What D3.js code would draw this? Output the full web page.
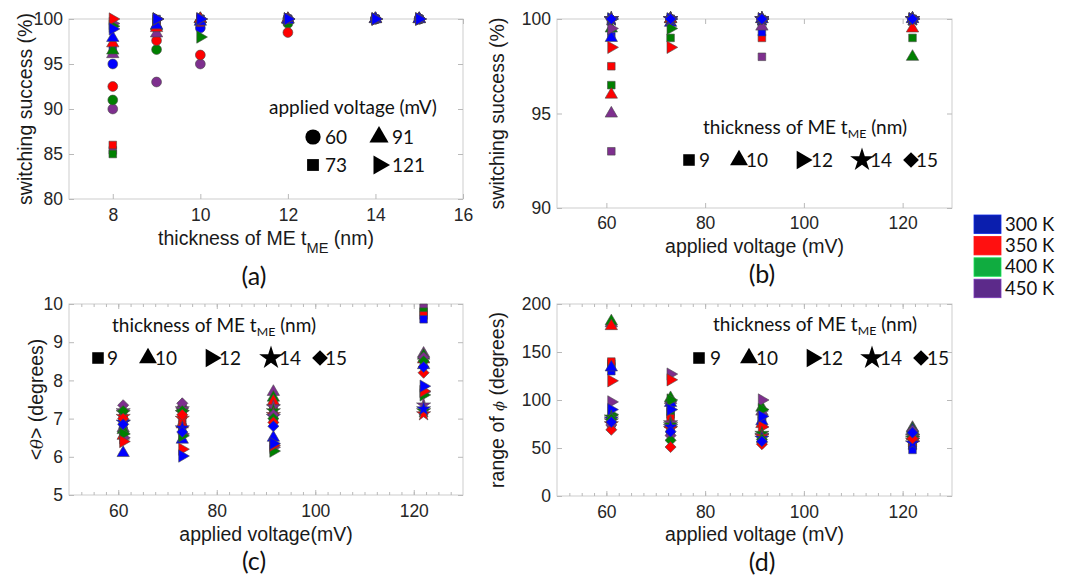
<!DOCTYPE html>
<html>
<head>
<meta charset="utf-8">
<script src="https://cdn.jsdelivr.net/npm/d3@7"></script>
<style>
  body { margin: 0; background: #fff; }
  .tick-label { font-family: "Liberation Sans", Arial, sans-serif; font-size: 17.5px; fill: #262626; }
  .axis-label { font-family: "Liberation Sans", Arial, sans-serif; font-size: 19.5px; fill: #1a1a1a; }
  .legend-text { font-family: Lato, "Open Sans", sans-serif; font-size: 19px; fill: #111; }
  .temp-text { font-family: Lato, "Open Sans", sans-serif; font-size: 18.5px; fill: #111; }
  .panel-label { font-family: Lato, "Open Sans", sans-serif; font-size: 25px; fill: #111; }
</style>
</head>
<body>
<svg id="fig" width="1079" height="580"></svg>
<script>
// temperatures (rows of every value table below: 300, 350, 400, 450 K)
var temps = ["300 K", "350 K", "400 K", "450 K"],
    markerColors = ["#0000ff", "#ff0000", "#008000", "#7e2f8e"],
    swatchColors = ["#0a1eae", "#ff1010", "#10ac40", "#5c2a8a"];

// (a) switching success vs thickness, one table per applied voltage
var thicknessA = [8, 9, 10, 12, 14, 15],
    voltagesA = [60, 73, 91, 121];
var successA60  = [[95, 99, 99, 100, 100, 100], [92.5, 97.6, 96, 98.5, 100, 100], [91, 96.6, 99.5, 99.5, 100, 100], [90, 93, 95, 100, 100, 100]];
var successA73  = [[96.8, 100, 100, 100, 100, 100], [86, 99.5, 99.6, 100, 100, 100], [85, 99.8, 100, 100, 100, 100], [85.4, 99.6, 100, 100, 100, 100]];
var successA91  = [[97.9, 99.3, 99.7, 99.9, 100, 100], [97.3, 99, 100, 100, 100, 100], [96.5, 99.2, 100, 100, 100, 100], [96.1, 98.4, 100, 100, 100, 100]];
var successA121 = [[98.9, 100, 100, 100, 100, 100], [100, 100, 100, 100, 100, 100], [99.2, 100, 98, 100, 100, 100], [99.5, 100, 100, 100, 100, 100]];

// (b), (c), (d) vs applied voltage, one table per ME thickness
var voltages = [61, 73, 91.5, 122],
    thicknessValues = [9, 10, 12, 14, 15];
var successB9  = [[99.1, 100, 99.3, 100], [97.5, 100, 99, 100], [96.5, 99, 100, 99], [93, 100, 98, 100]];
var successB10 = [[99, 99.8, 100, 100], [96, 100, 100, 99.5], [99.5, 100, 100, 98], [95, 100, 99.6, 100]];
var successB12 = [[100, 100, 100, 100], [98.5, 98.5, 100, 100], [100, 99.5, 100, 100], [99.5, 100, 100, 100]];
var successB14 = [[100, 100, 100, 100], [100, 100, 100, 100], [100, 100, 100, 100], [100, 100, 100, 100]];
var successB15 = [[100, 100, 100, 100], [100, 100, 100, 100], [100, 100, 100, 100], [100, 100, 100, 100]];

var thetaC9  = [[6.95, 6.7, 6.95, 9.6], [6.85, 7.0, 7.25, 9.7], [7.0, 7.1, 7.35, 9.8], [7.1, 7.2, 7.4, 9.9]];
var thetaC10 = [[6.1, 6.45, 6.5, 8.4], [6.55, 6.85, 7.45, 8.55], [6.7, 7.3, 7.55, 8.65], [6.75, 7.35, 7.7, 8.7]];
var thetaC12 = [[6.95, 6.02, 6.35, 7.85], [6.4, 6.2, 6.3, 7.72], [6.6, 6.55, 6.15, 7.62], [6.5, 6.6, 6.25, 7.7]];
var thetaC14 = [[6.9, 6.75, 7.05, 7.25], [7.05, 7.0, 7.1, 7.12], [7.15, 7.15, 7.2, 7.2], [7.2, 7.25, 7.3, 7.35]];
var thetaC15 = [[6.85, 6.65, 6.8, 8.35], [7.0, 7.1, 6.9, 8.2], [7.2, 7.2, 7.0, 8.5], [7.35, 7.4, 7.1, 8.6]];

var phiD9  = [[130, 93, 82, 48], [140, 81, 78, 52], [138, 85, 85, 55], [135, 88, 80, 53]];
var phiD10 = [[134, 97, 78, 68], [177, 75, 75, 62], [182, 102, 92, 70], [180, 100, 88, 71]];
var phiD12 = [[90, 90, 83, 60], [120, 121, 72, 57], [85, 100, 90, 62], [98, 127, 100, 64]];
var phiD14 = [[80, 72, 60, 55], [75, 70, 62, 58], [82, 74, 65, 60], [78, 76, 63, 62]];
var phiD15 = [[77, 67, 57, 66], [69, 51, 54, 60], [80, 58, 59, 65], [74, 63, 56, 68]];

var ticksA = {x: [8, 10, 12, 14, 16], y: [80, 85, 90, 95, 100]},
    ticksB = {x: [60, 80, 100, 120], y: [90, 95, 100]},
    ticksC = {x: [60, 80, 100, 120], y: [5, 6, 7, 8, 9, 10]},
    ticksD = {x: [60, 80, 100, 120], y: [0, 50, 100, 150, 200]};

var shapes = {
  circle:   {type: d3.symbolCircle,   size: 76, rot: 0},
  square:   {type: d3.symbolSquare,   size: 58, rot: 0},
  triangle: {type: d3.symbolTriangle, size: 66, rot: 0},
  right:    {type: d3.symbolTriangle, size: 66, rot: 90},
  star:     {type: d3.symbolStar,     size: 62, rot: 0},
  diamond:  {type: d3.symbolSquare,   size: 62, rot: 45}
};
var thicknessShapes = ["square", "triangle", "right", "star", "diamond"];

var svg = d3.select("#fig");

function mark(g, shape, px, py, fill, stroke, k) {
  var s = shapes[shape];
  g.append("path")
    .attr("d", d3.symbol().type(s.type).size(s.size * (k || 1))())
    .attr("transform", "translate(" + px + "," + py + ") rotate(" + s.rot + ")")
    .attr("fill", fill)
    .attr("stroke", stroke)
    .attr("stroke-width", stroke === "none" ? 0 : 0.6);
}

function panel(o) {
  var x = d3.scaleLinear().domain(o.xDomain).range([o.left, o.right]),
      y = d3.scaleLinear().domain(o.yDomain).range([o.bottom, o.top]),
      g = svg.append("g");

  function axis(gen, tx, ty, labels) {
    var a = g.append("g").attr("transform", "translate(" + tx + "," + ty + ")").call(gen);
    a.attr("font-size", null).attr("font-family", null);
    a.select(".domain").remove();
    a.selectAll("line").attr("stroke", "#b9b9b9");
    if (labels) a.selectAll("text").attr("class", "tick-label").attr("fill", null);
    else a.selectAll("text").remove();
  }

  g.append("rect")
    .attr("x", o.left).attr("y", o.top)
    .attr("width", o.right - o.left).attr("height", o.bottom - o.top)
    .attr("fill", "none").attr("stroke", "#cdcdcd");

  if (o.minor) {
    var minor = d3.range(o.xDomain[0] + o.minor, o.xDomain[1], o.minor);
    axis(d3.axisBottom(x).tickValues(minor).tickSize(-3), 0, o.bottom, false);
    axis(d3.axisTop(x).tickValues(minor).tickSize(-3), 0, o.top, false);
  }
  axis(d3.axisBottom(x).tickValues(o.ticks.x).tickSize(-5).tickPadding(o.xPad).tickFormat(d3.format("d")), 0, o.bottom, true);
  axis(d3.axisTop(x).tickValues(o.ticks.x).tickSize(-5), 0, o.top, false);
  axis(d3.axisLeft(y).tickValues(o.ticks.y).tickSize(-5).tickPadding(6).tickFormat(d3.format("d")), o.left, 0, true);
  axis(d3.axisRight(y).tickValues(o.ticks.y).tickSize(-5), o.right, 0, false);

  // purple first, blue last, so blue sits on top
  var pts = g.append("g");
  o.series.forEach(function(s) {
    [3, 2, 1, 0].forEach(function(t) {
      s.values[t].forEach(function(v, i) {
        mark(pts, s.shape, x(o.xs[i]), y(v), markerColors[t], "#4a4a4a");
      });
    });
  });

  var xl = g.append("text").attr("class", "axis-label")
    .attr("x", (o.left + o.right) / 2).attr("y", o.xLabelY).attr("text-anchor", "middle");
  o.xLabel(xl);
  var yl = g.append("text").attr("class", "axis-label")
    .attr("transform", "translate(" + o.yLabelX + "," + (o.top + o.bottom) / 2 + ") rotate(-90)")
    .attr("text-anchor", "middle");
  o.yLabel(yl);

  g.append("text").attr("class", "panel-label")
    .attr("x", o.tag[1]).attr("y", o.tag[2]).attr("text-anchor", "middle").text(o.tag[0]);
  return g;
}

// "thickness of ME t_ME (nm)" legend with the five thickness symbols
function thicknessLegend(g, tx, ty, rowY, pos) {
  var t = g.append("text").attr("class", "legend-text").attr("x", tx).attr("y", ty);
  t.append("tspan").text("thickness of ME t");
  t.append("tspan").attr("font-size", "65%").attr("dy", 4).text("ME");
  t.append("tspan").attr("dy", -4).text(" (nm)");
  thicknessValues.forEach(function(d, i) {
    mark(g, thicknessShapes[i], pos[i][0], rowY, "#000", "none", [2.3, 2.1, 2.2, 2.8, 2.0][i]);
    g.append("text").attr("class", "legend-text").attr("font-size", "20px")
      .attr("x", pos[i][1]).attr("y", rowY + 7).text(d);
  });
}

// (a)
var ga = panel({
  left: 69, right: 463, top: 19, bottom: 199,
  xDomain: [7, 16], yDomain: [80, 100], ticks: ticksA, xPad: 10,
  xs: thicknessA,
  series: [
    {shape: "circle", values: successA60},
    {shape: "square", values: successA73},
    {shape: "triangle", values: successA91},
    {shape: "right", values: successA121}
  ],
  xLabelY: 245, yLabelX: 32,
  xLabel: function(t) {
    t.append("tspan").text("thickness of ME t");
    t.append("tspan").attr("font-size", "75%").attr("dy", 8).text("ME");
    t.append("tspan").attr("dy", -8).text(" (nm)");
  },
  yLabel: function(t) { t.text("switching success (%)"); },
  tag: ["(a)", 254, 285]
});
ga.append("text").attr("class", "legend-text").attr("x", 269).attr("y", 114).text("applied voltage (mV)");
[["circle", 313, 137, 325, 0], ["triangle", 379, 137, 392, 2], ["square", 313, 165, 325, 1], ["right", 379, 165, 392, 3]]
  .forEach(function(p) {
    mark(ga, p[0], p[1], p[2], "#000", "none", 2.4);
    ga.append("text").attr("class", "legend-text").attr("font-size", "20px")
      .attr("x", p[3]).attr("y", p[2] + 7).text(voltagesA[p[4]]);
  });

// (b)
var gb = panel({
  left: 557, right: 952, top: 19, bottom: 208,
  xDomain: [50, 130], yDomain: [90, 100], ticks: ticksB, xPad: 8.5,
  xs: voltages,
  series: thicknessShapes.map(function(s, i) {
    return {shape: s, values: [successB9, successB10, successB12, successB14, successB15][i]};
  }),
  xLabelY: 253, yLabelX: 504,
  xLabel: function(t) { t.text("applied voltage (mV)"); },
  yLabel: function(t) { t.text("switching success (%)"); },
  tag: ["(b)", 762, 283]
});
thicknessLegend(gb, 703, 134, 160, [[689, 699], [739, 746], [802, 811], [862, 870], [911, 916]]);

// (c)
var gc = panel({
  left: 69, right: 463, top: 304, bottom: 495,
  xDomain: [50, 130], yDomain: [5, 10], ticks: ticksC, xPad: 9.5, minor: 2.5,
  xs: voltages,
  series: thicknessShapes.map(function(s, i) {
    return {shape: s, values: [thetaC9, thetaC10, thetaC12, thetaC14, thetaC15][i]};
  }),
  xLabelY: 541, yLabelX: 43,
  xLabel: function(t) { t.text("applied voltage(mV)"); },
  yLabel: function(t) {
    t.append("tspan").text("<");
    t.append("tspan").attr("font-style", "italic").attr("font-family", "DejaVu Serif").attr("font-size", "85%").text("θ");
    t.append("tspan").text("> (degrees)");
  },
  tag: ["(c)", 254, 570]
});
thicknessLegend(gc, 112, 332, 358, [[98, 107], [148, 155], [211, 219], [271, 279], [320, 325]]);

// (d)
var gd = panel({
  left: 557, right: 952, top: 304, bottom: 496,
  xDomain: [50, 130], yDomain: [0, 200], ticks: ticksD, xPad: 9.5, minor: 2.5,
  xs: voltages,
  series: thicknessShapes.map(function(s, i) {
    return {shape: s, values: [phiD9, phiD10, phiD12, phiD14, phiD15][i]};
  }),
  xLabelY: 541, yLabelX: 504,
  xLabel: function(t) { t.text("applied voltage (mV)"); },
  yLabel: function(t) {
    t.append("tspan").text("range of ");
    t.append("tspan").attr("font-style", "italic").attr("font-family", "DejaVu Serif").attr("font-size", "75%").text("ϕ");
    t.append("tspan").text(" (degrees)");
  },
  tag: ["(d)", 762, 571]
});
thicknessLegend(gd, 713, 331, 358, [[699, 710], [749, 756], [812, 821], [872, 880], [921, 927]]);

// temperature legend
var lg = svg.append("g");
temps.forEach(function(t, i) {
  var yy = 215 + i * 21.4;
  lg.append("rect").attr("x", 974).attr("y", yy).attr("width", 27).attr("height", 18.5)
    .attr("fill", swatchColors[i]).attr("stroke", d3.color(swatchColors[i]).brighter(0.8)).attr("stroke-width", 0.8);
  lg.append("text").attr("class", "temp-text").attr("x", 1005).attr("y", yy + 15.5).text(t);
});
</script>
</body>
</html>
